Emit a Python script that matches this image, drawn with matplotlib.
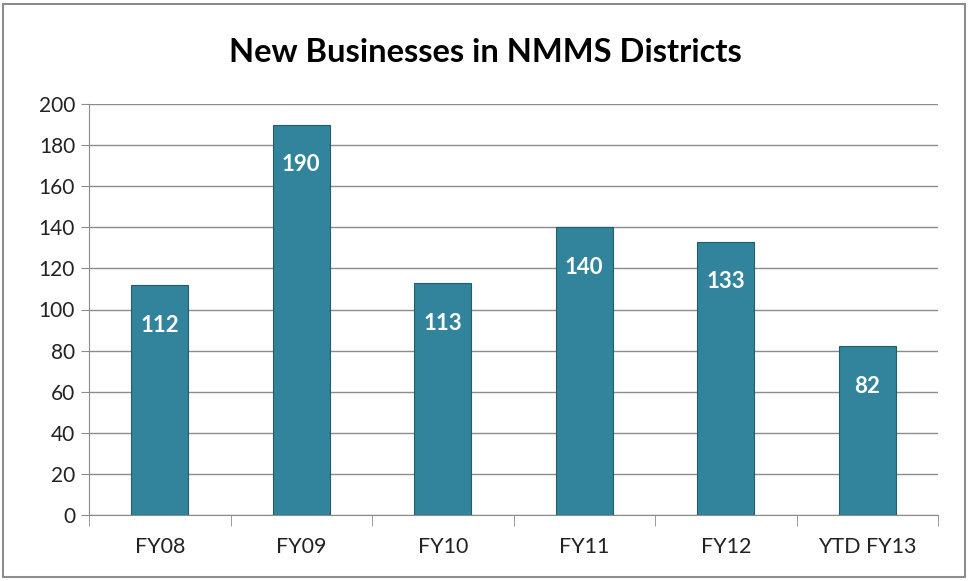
import matplotlib
matplotlib.use("Agg")
import matplotlib.pyplot as plt
from matplotlib.patches import Rectangle

categories = ["FY08", "FY09", "FY10", "FY11", "FY12", "YTD FY13"]
values = [112, 190, 113, 140, 133, 82]
yticks = [0, 20, 40, 60, 80, 100, 120, 140, 160, 180, 200]
title = "New Businesses in NMMS Districts"

plt.rcParams['font.family'] = ['Lato', 'DejaVu Sans']

fig = plt.figure(figsize=(9.71, 5.81), dpi=100)
ax = fig.add_axes([89/971, 1-515/581, (938-89)/971, (515-104)/581])

x = list(range(len(categories)))
ax.bar(x, values, width=0.4, color="#31849B", edgecolor="#215F6E", linewidth=0.8, zorder=3)
for xi, v in zip(x, values):
    ax.annotate(str(v), (xi, v), xytext=(0, -29), textcoords="offset points",
                ha="center", va="center", color="white", fontsize=16, fontweight="bold", zorder=4)

ax.set_xlim(-0.5, len(categories) - 0.5)
ax.set_ylim(0, 200)
ax.set_yticks(yticks)
ax.set_yticklabels([str(t) for t in yticks], fontsize=15, color="#222222")
ax.yaxis.grid(True, color="#8c8c8c", linewidth=1, zorder=0)
ax.set_xticks(x)
ax.set_xticklabels(categories, fontsize=15.5, color="#222222")
ax.tick_params(axis="x", length=0, pad=16)
ax.set_xticks([i - 0.5 for i in range(len(categories) + 1)], minor=True)
ax.tick_params(axis="x", which="minor", length=8, color="#8c8c8c", direction="out")
ax.tick_params(axis="y", length=6, color="#8c8c8c", pad=4)
for s in ["top", "right"]:
    ax.spines[s].set_visible(False)
ax.spines["left"].set_color("#8c8c8c")
ax.spines["bottom"].set_color("#8c8c8c")

fig.text(0.5, 1 - 52/581, title, ha="center", va="center", fontsize=23.5, fontweight="bold")

fig.patches.append(Rectangle((3/971, 4/581), (965-3)/971, (577-4)/581, transform=fig.transFigure,
                             fill=False, edgecolor="#8c8c8c", linewidth=1.5))

fig.savefig("out.png", dpi=100)
